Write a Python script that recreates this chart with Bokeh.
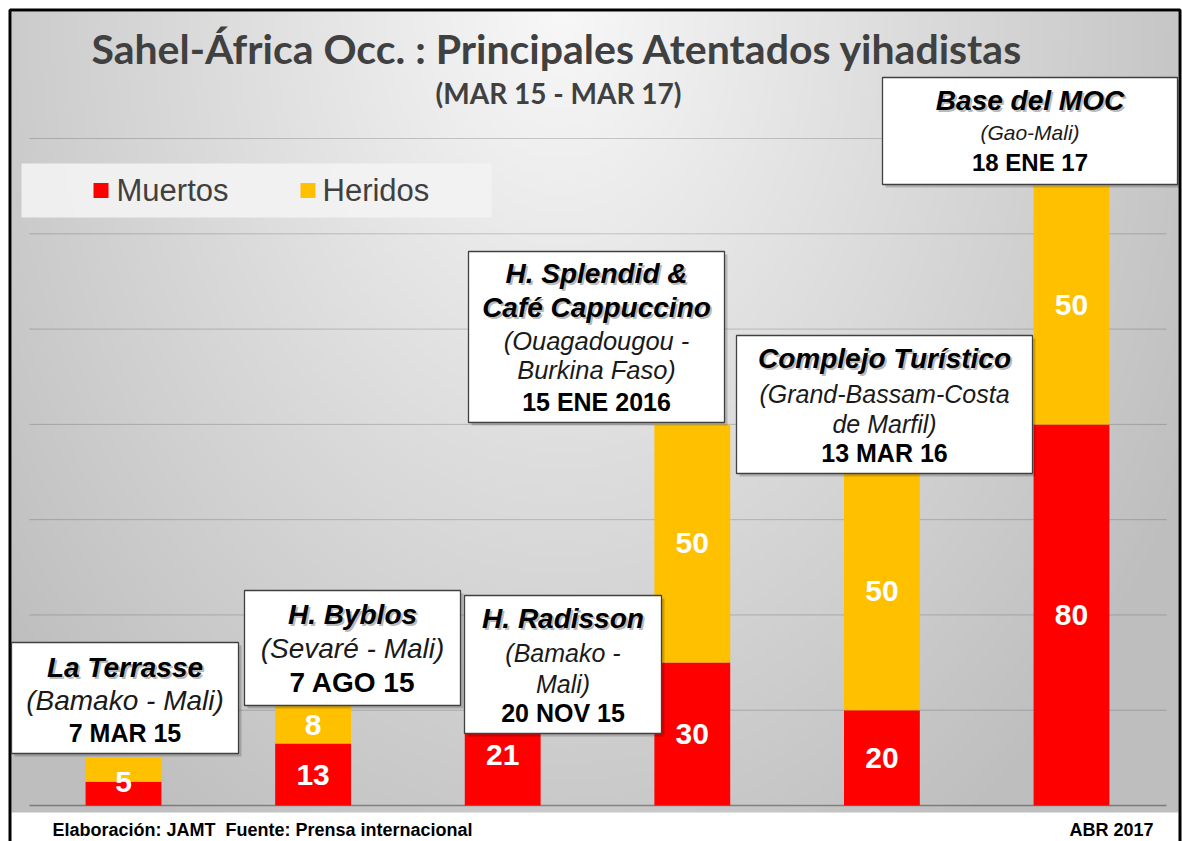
import numpy as np
from bokeh.plotting import figure
from bokeh.models import Range1d
from bokeh.core.properties import value
from bokeh.embed import file_html
from bokeh.resources import INLINE

# ---------------- data ----------------
ataques = ["La Terrasse", "H. Byblos", "H. Radisson",
           "H. Splendid & Café Cappuccino", "Complejo Turístico", "Base del MOC"]
muertos = [5, 13, 21, 30, 20, 80]
heridos = [5, 8, 7, 50, 50, 50]
mostrar_heridos = [False, True, False, True, True, True]
series = ["Muertos", "Heridos"]
colores = ["#ff0000", "#ffc000"]
y_ticks = [0, 20, 40, 60, 80, 100, 120, 140]

nombres = ["La Terrasse", "H. Byblos", "H. Radisson",
           "H. Splendid &\nCafé Cappuccino", "Complejo Turístico", "Base del MOC"]
lugares = ["(Bamako - Mali)", "(Sevaré - Mali)", "(Bamako -\nMali)",
           "(Ouagadougou -\nBurkina Faso)", "(Grand-Bassam-Costa\nde Marfil)", "(Gao-Mali)"]
fechas = ["7 MAR 15", "7 AGO 15", "20 NOV 15", "15 ENE 2016", "13 MAR 16", "18 ENE 17"]

titulo = "Sahel-África Occ. : Principales Atentados yihadistas"
subtitulo = "(MAR 15 - MAR 17)"
pie_izq = "Elaboración: JAMT\u00a0 Fuente: Prensa internacional"
pie_der = "ABR 2017"

# ---------------- page geometry (pixels -> data) ----------------
PX0, PY0 = 0, 0
W, H = 1182, 841
XC0, XSTEP = 123.0, 189.6      # page x of first bar centre, spacing
YBASE, YSCALE = 805.0, 4.764   # page y of value 0, pixels per unit


def dx(px):
    return (px - XC0) / XSTEP


def dy(py):
    return (YBASE - py) / YSCALE


p = figure(width=W, height=H, x_range=Range1d(dx(PX0), dx(PX0 + W)),
           y_range=Range1d(dy(PY0 + H), dy(PY0)), x_axis_type=None, y_axis_type=None,
           min_border=0, title=None, output_backend="svg", toolbar_location=None)
p.outline_line_color = None
p.grid.visible = False
p.background_fill_color = "white"
p.border_fill_color = "white"

# ---------------- gradient background ----------------
gl, gr, gt, gb = 11, 1178, 11, 812
nx, ny = 292, 201
xs = gl + (np.arange(nx) + 0.5) * (gr - gl) / nx
ys = gb - (np.arange(ny) + 0.5) * (gb - gt) / ny
XX, YY = np.meshgrid(xs, ys)
d = np.sqrt(((XX - 560) / 720.0) ** 2 + ((YY - 5) / 1000.0) ** 2)
v = np.clip(248 - 58 * np.clip(d, 0, 1), 0, 255).astype(np.uint8)
img = np.empty((ny, nx), dtype=np.uint32)
view = img.view(dtype=np.uint8).reshape((ny, nx, 4))
view[..., 0] = v
view[..., 1] = v
view[..., 2] = v
view[..., 3] = 255
p.image_rgba(image=[img], x=dx(gl), y=dy(gb), dw=dx(gr) - dx(gl), dh=dy(gt) - dy(gb))

# outer frame
p.quad(left=dx(9.5), right=dx(1179.5), top=dy(9.5), bottom=dy(870),
       fill_color=None, line_color="black", line_width=3)

# ---------------- grid ----------------
grid_y = [t for t in y_ticks if t > 0]
p.segment(x0=dx(29), x1=dx(1166), y0=grid_y, y1=grid_y, line_color="black",
          line_alpha=0.18, line_width=1)
p.segment(x0=dx(29), x1=dx(1166), y0=[0], y1=[0], line_color="black",
          line_alpha=0.35, line_width=1.5)

# ---------------- legend ----------------
p.quad(left=dx(21), right=dx(491), top=dy(163), bottom=dy(217),
       fill_color="#f3f3f3", fill_alpha=0.9, line_color=None)
leg_sq_x = [dx(100.5), dx(307.5)]
leg_tx_x = [dx(116), dx(322)]
p.scatter(x=leg_sq_x, y=[dy(190)] * 2, marker="square", size=15,
          fill_color=colores, line_color=None)
p.text(x=leg_tx_x, y=[dy(190)] * 2, text=series, text_font=value("Liberation Sans"),
       text_font_size="31px", text_color="#404040", text_align="left",
       text_baseline="middle")

# ---------------- bars ----------------
idx = list(range(len(ataques)))
total = [m + h for m, h in zip(muertos, heridos)]
p.vbar(x=idx, width=0.4, bottom=0, top=muertos, fill_color=colores[0], line_color=None)
p.vbar(x=idx, width=0.4, bottom=muertos, top=total, fill_color=colores[1], line_color=None)

lab_x, lab_y, lab_t = [], [], []
for i in idx:
    lab_x.append(i)
    # first bar: label sits at the boundary (as in the original)
    lab_y.append(muertos[i] / 2 if i > 0 else (muertos[i] + heridos[i]) / 2)
    lab_t.append(str(muertos[i]))
    if mostrar_heridos[i]:
        lab_x.append(i)
        lab_y.append(muertos[i] + heridos[i] / 2)
        lab_t.append(str(heridos[i]))
p.text(x=lab_x, y=lab_y, text=lab_t, text_font=value("Liberation Sans"),
       text_font_style="bold", text_font_size="30px", text_color="white",
       text_align="center", text_baseline="middle")

# ---------------- annotation boxes ----------------
# (left, right, top, bottom) in page px, line centres, sizes (name, place, date)
cajas = [
    dict(r=(11, 238, 642, 753), ys=[667, 700, 732], fs=(28, 28, 25)),
    dict(r=(244, 460, 590, 705), ys=[614, 648, 682], fs=(28, 28, 28)),
    dict(r=(464, 661, 595, 733), ys=[618, 652, 683, 712], fs=(28, 25, 25)),
    dict(r=(468, 724, 251, 422), ys=[273, 307, 340, 369, 401], fs=(28, 25.5, 25)),
    dict(r=(736, 1032, 335, 473), ys=[358, 393, 423, 452], fs=(28, 25, 25)),
    dict(r=(882, 1177, 77, 184), ys=[100, 132, 162], fs=(28, 21, 24)),
]

for i, c in enumerate(cajas):
    l, r, t, b = c["r"]
    p.quad(left=dx(l + 3), right=dx(r + 3), top=dy(t + 3), bottom=dy(b + 3),
           fill_color="black", fill_alpha=0.18, line_color=None)
    p.quad(left=dx(l), right=dx(r), top=dy(t), bottom=dy(b),
           fill_color="white", line_color="#404040", line_width=1.3)
    cx = (l + r) / 2.0
    lines = []
    for s in nombres[i].split("\n"):
        lines.append((s, "bold italic", c["fs"][0], True))
    for s in lugares[i].split("\n"):
        lines.append((s, "italic", c["fs"][1], False))
    lines.append((fechas[i], "bold", c["fs"][2], False))
    for (s, style, fs, shadow), yy in zip(lines, c["ys"]):
        if shadow:
            p.text(x=[dx(cx + 2)], y=[dy(yy + 2)], text=[s],
                   text_font=value("Liberation Sans"), text_font_style=style,
                   text_font_size=f"{fs}px", text_color="#7f7f7f", text_alpha=0.55,
                   text_align="center", text_baseline="middle")
        p.text(x=[dx(cx)], y=[dy(yy)], text=[s], text_font=value("Liberation Sans"),
               text_font_style=style, text_font_size=f"{fs}px",
               text_color="black" if style != "italic" else "#1a1a1a",
               text_align="center", text_baseline="middle")

# ---------------- titles ----------------
p.text(x=[dx(557)], y=[dy(48)], text=[titulo], text_font=value("Lato"),
       text_font_style="bold", text_font_size="41px", text_color="#404040",
       text_align="center", text_baseline="middle")
p.text(x=[dx(558)], y=[dy(92)], text=[subtitulo], text_font=value("Lato"),
       text_font_style="bold", text_font_size="28px", text_color="#404040",
       text_align="center", text_baseline="middle")

# ---------------- footer ----------------
p.text(x=[dx(52)], y=[dy(829)], text=[pie_izq], text_font=value("Liberation Sans"),
       text_font_style="bold", text_font_size="18px", text_color="black",
       text_align="left", text_baseline="middle")
p.text(x=[dx(1153)], y=[dy(829)], text=[pie_der], text_font=value("Liberation Sans"),
       text_font_style="bold", text_font_size="18px", text_color="black",
       text_align="right", text_baseline="middle")

open("out.html", "w").write(file_html(p, INLINE))
